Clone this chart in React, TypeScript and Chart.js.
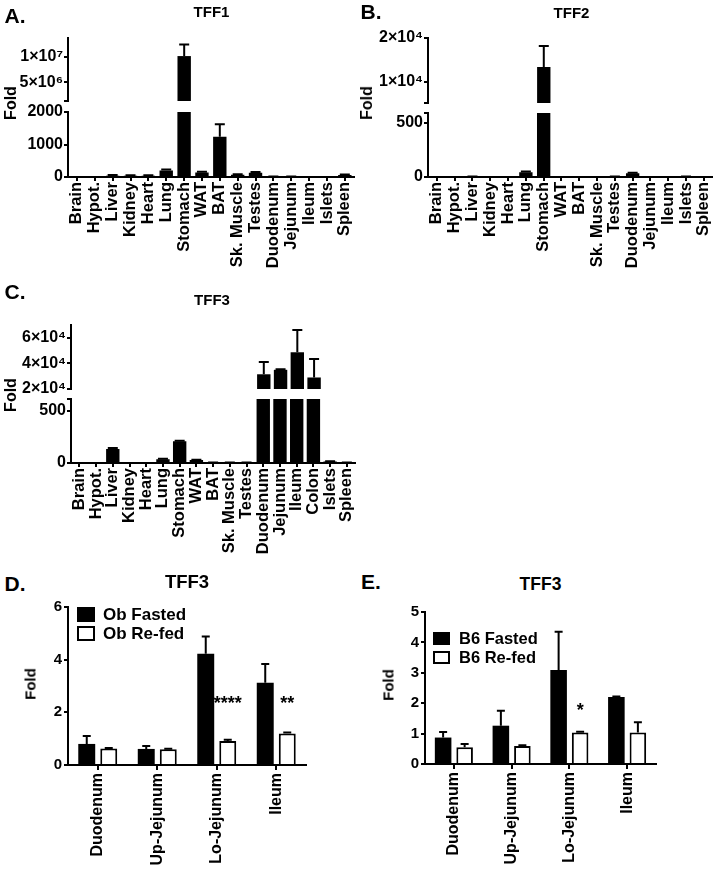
import React, { useEffect, useRef } from 'react';
import { Chart, registerables } from 'chart.js';

Chart.register(...registerables);

const FONT = '"Liberation Sans", Arial, Helvetica, sans-serif';

// ---------------- DATA ----------------
const tissues16 = ['Brain', 'Hypot.', 'Liver', 'Kidney', 'Heart', 'Lung', 'Stomach', 'WAT', 'BAT', 'Sk. Muscle', 'Testes', 'Duodenum', 'Jejunum', 'Ileum', 'Islets', 'Spleen'];
const tissues17 = ['Brain', 'Hypot.', 'Liver', 'Kidney', 'Heart', 'Lung', 'Stomach', 'WAT', 'BAT', 'Sk. Muscle', 'Testes', 'Duodenum', 'Jejunum', 'Ileum', 'Colon', 'Islets', 'Spleen'];

const tff1Mean = [2, 2, 40, 40, 40, 200, 10200000, 140, 1235, 70, 130, 10, 10, 2, 2, 60];
const tff1Err = [1, 1, 20, 15, 15, 30, 2300000, 20, 385, 15, 25, 5, 5, 1, 1, 15];
const tff2Mean = [0, 0, 3, 0, 0, 45, 13400, 0, 0, 0, 3, 35, 0, 0, 3, 0];
const tff2Err = [0, 0, 1, 0, 0, 5, 4800, 0, 0, 0, 1, 5, 0, 0, 1, 0];
const tff3Mean = [0, 0, 135, 0, 0, 36, 209, 29, 5, 5, 5, 31500, 35000, 48700, 29000, 15, 5];
const tff3Err = [0, 0, 8, 0, 0, 4, 6, 3, 1, 1, 1, 9500, 500, 17300, 14500, 3, 1];

// broken-axis ranges and ticks
const tff1TopRange = [1250000, 13800000];
const tff1TopTicks = [1250000, 5000000, 10000000];
const tff1TopTickLabels = ['', '5×10⁶', '1×10⁷'];
const tff1BottomRange = [0, 2000];
const tff1BottomTicks = [0, 1000, 2000];
const tff1BottomTickLabels = ['0', '1000', '2000'];

const tff2TopRange = [5200, 20000];
const tff2TopTicks = [5200, 10000, 20000];
const tff2TopTickLabels = ['', '1×10⁴', '2×10⁴'];
const tff2BottomRange = [0, 592];
const tff2BottomTicks = [0, 500, 592];
const tff2BottomTickLabels = ['0', '500', ''];

const tff3TopRange = [20000, 70000];
const tff3TopTicks = [20000, 40000, 60000];
const tff3TopTickLabels = ['2×10⁴', '4×10⁴', '6×10⁴'];
const tff3BottomRange = [0, 615];
const tff3BottomTicks = [0, 500, 615];
const tff3BottomTickLabels = ['0', '500', ''];

const segments = ['Duodenum', 'Up-Jejunum', 'Lo-Jejunum', 'Ileum'];
const obFastedMean = [0.8, 0.61, 4.22, 3.12];
const obFastedErr = [0.3, 0.11, 0.66, 0.72];
const obRefedMean = [0.63, 0.6, 0.91, 1.2];
const obRefedErr = [0.02, 0.02, 0.05, 0.03];
const obSig = ['', '', '****', '**'];
const obSigY = [0, 0, 2.46, 2.46];
const obTicks = [0, 2, 4, 6];

const b6FastedMean = [0.87, 1.26, 3.09, 2.2];
const b6FastedErr = [0.18, 0.49, 1.26, 0.02];
const b6RefedMean = [0.55, 0.59, 1.04, 1.04];
const b6RefedErr = [0.11, 0.03, 0.02, 0.33];
const b6Sig = ['', '', '*', ''];
const b6SigY = [0, 0, 1.87, 0];
const b6Ticks = [0, 1, 2, 3, 4, 5];

// ---------------- PLUGINS ----------------
const errorBarPlugin = {
  id: 'errorBars',
  afterDatasetsDraw(chart: any, _args: any, opts: any) {
    const { ctx, chartArea } = chart;
    ctx.save();
    ctx.beginPath();
    ctx.rect(chartArea.left, chartArea.top, chartArea.right - chartArea.left, chartArea.bottom - chartArea.top);
    ctx.clip();
    chart.data.datasets.forEach((ds: any, di: number) => {
      const errs = ds.errors;
      if (!errs) return;
      const meta = chart.getDatasetMeta(di);
      const yScale = chart.scales[meta.yAxisID];
      meta.data.forEach((el: any, i: number) => {
        const v = ds.data[i];
        const e = errs[i];
        if (!e) return;
        const yBar = yScale.getPixelForValue(v);
        const yTop = yScale.getPixelForValue(v + e);
        ctx.strokeStyle = '#000';
        ctx.lineWidth = opts.lineWidth || 2;
        ctx.beginPath();
        ctx.moveTo(el.x, yBar);
        ctx.lineTo(el.x, yTop);
        ctx.moveTo(el.x - opts.capWidth / 2, yTop);
        ctx.lineTo(el.x + opts.capWidth / 2, yTop);
        ctx.stroke();
      });
    });
    ctx.restore();
  },
};

const sigPlugin = {
  id: 'sigMarks',
  afterDatasetsDraw(chart: any, _args: any, opts: any) {
    if (!opts || !opts.labels) return;
    const { ctx } = chart;
    const meta = chart.getDatasetMeta(opts.datasetIndex);
    const yScale = chart.scales[meta.yAxisID];
    ctx.save();
    ctx.fillStyle = '#000';
    ctx.font = `bold ${opts.fontSize}px ${FONT}`;
    ctx.textAlign = 'center';
    ctx.textBaseline = 'middle';
    opts.labels.forEach((t: string, i: number) => {
      if (!t) return;
      const el = meta.data[i];
      const y = yScale.getPixelForValue(opts.ys[i]) + opts.fontSize * 0.22;
      ctx.fillText(t, el.x, y);
    });
    ctx.restore();
  },
};

const boxLegendPlugin = {
  id: 'boxLegend',
  afterDraw(chart: any, _args: any, opts: any) {
    if (!opts || !opts.show) return;
    const { ctx, chartArea } = chart;
    ctx.save();
    chart.data.datasets.forEach((ds: any, i: number) => {
      const x = chartArea.left + opts.dx;
      const y = chartArea.top + opts.dy + i * opts.rowH;
      ctx.fillStyle = ds.backgroundColor;
      ctx.fillRect(x, y, opts.boxW, opts.boxH);
      if (ds.borderWidth) {
        ctx.strokeStyle = '#000';
        ctx.lineWidth = 2;
        ctx.strokeRect(x + 1, y + 1, opts.boxW - 2, opts.boxH - 2);
      }
      ctx.fillStyle = '#000';
      ctx.font = `bold ${opts.fontSize}px ${FONT}`;
      ctx.textAlign = 'left';
      ctx.textBaseline = 'middle';
      ctx.fillText(ds.label, x + opts.boxW + opts.gap, y + opts.boxH / 2 + 1);
    });
    ctx.restore();
  },
};

// ---------------- CONFIG BUILDERS ----------------
function labeler(vals: number[], labs: string[]) {
  return (v: any) => {
    const n = Number(v);
    const i = vals.findIndex((t) => Math.abs(t - n) <= Math.abs(t) * 1e-9 + 1e-9);
    return i >= 0 ? labs[i] : '';
  };
}

type Box = { l: number; t: number; w: number; h: number };

function tissueConfig(p: {
  labels: string[];
  data: number[];
  errs: number[];
  range: number[];
  ticks: number[];
  tickLabels: string[];
  showX: boolean;
  yw: number;
  xh: number;
  barPct: number;
}): any {
  const tickFont = { family: FONT, size: 16, weight: 'bold' as const };
  return {
    type: 'bar',
    data: {
      labels: p.labels,
      datasets: [
        {
          data: p.data,
          errors: p.errs,
          backgroundColor: '#000',
          borderWidth: 0,
          barPercentage: p.barPct,
          categoryPercentage: 1,
          clip: 0,
        },
      ],
    },
    plugins: [errorBarPlugin],
    options: {
      animation: false,
      responsive: false,
      devicePixelRatio: 1,
      layout: { padding: { top: 14, right: 12, bottom: p.showX ? 0 : 14, left: 0 } },
      plugins: {
        legend: { display: false },
        tooltip: { enabled: false },
        errorBars: { lineWidth: 2, capWidth: 10 },
      },
      scales: {
        x: {
          type: 'category',
          display: p.showX,
          offset: true,
          grid: { display: true, offset: false, drawOnChartArea: false, drawTicks: true, tickLength: 4, color: '#000', lineWidth: 2 },
          border: { display: true, color: '#000', width: 2 },
          ticks: { autoSkip: false, maxRotation: 90, minRotation: 90, padding: 1, color: '#000', font: { family: FONT, size: 16.5, weight: 'bold' } },
          afterFit: (s: any) => {
            s.height = p.xh;
          },
        },
        y: {
          type: 'linear',
          min: p.range[0],
          max: p.range[1],
          beginAtZero: false,
          afterBuildTicks: (s: any) => {
            s.ticks = p.ticks.map((v) => ({ value: v }));
          },
          afterFit: (s: any) => {
            s.width = p.yw;
          },
          grid: { display: true, drawOnChartArea: false, drawTicks: true, tickLength: 4, color: '#000', lineWidth: 2 },
          border: { display: true, color: '#000', width: 2 },
          ticks: { callback: labeler(p.ticks, p.tickLabels), padding: 1, color: '#000', font: tickFont },
        },
      },
    },
  };
}

function groupConfig(p: {
  labelA: string;
  labelB: string;
  meanA: number[];
  errA: number[];
  meanB: number[];
  errB: number[];
  sig: string[];
  sigY: number[];
  ticks: number[];
  yw: number;
  xh: number;
  catPct: number;
  legend: any;
}): any {
  return {
    type: 'bar',
    data: {
      labels: segments,
      datasets: [
        {
          label: p.labelA,
          data: p.meanA,
          errors: p.errA,
          backgroundColor: '#000',
          borderColor: '#000',
          borderWidth: 0,
          barPercentage: 0.77,
          categoryPercentage: p.catPct,
          clip: 0,
        },
        {
          label: p.labelB,
          data: p.meanB,
          errors: p.errB,
          backgroundColor: '#fff',
          borderColor: '#000',
          borderWidth: 2,
          barPercentage: 0.77,
          categoryPercentage: p.catPct,
          clip: 0,
        },
      ],
    },
    plugins: [errorBarPlugin, sigPlugin, boxLegendPlugin],
    options: {
      animation: false,
      responsive: false,
      devicePixelRatio: 1,
      layout: { padding: { top: 14, right: 12, bottom: 0, left: 0 } },
      plugins: {
        legend: { display: false },
        tooltip: { enabled: false },
        errorBars: { lineWidth: 2, capWidth: 8 },
        sigMarks: { datasetIndex: 1, labels: p.sig, ys: p.sigY, fontSize: 18 },
        boxLegend: p.legend,
      },
      scales: {
        x: {
          type: 'category',
          offset: true,
          grid: { display: true, offset: false, drawOnChartArea: false, drawTicks: true, tickLength: 5, color: '#000', lineWidth: 2 },
          border: { display: true, color: '#000', width: 2 },
          ticks: { autoSkip: false, maxRotation: 90, minRotation: 90, padding: 3, color: '#000', font: { family: FONT, size: 16, weight: 'bold' } },
          afterFit: (s: any) => {
            s.height = p.xh;
          },
        },
        y: {
          type: 'linear',
          min: p.ticks[0],
          max: p.ticks[p.ticks.length - 1],
          afterBuildTicks: (s: any) => {
            s.ticks = p.ticks.map((v) => ({ value: v }));
          },
          afterFit: (s: any) => {
            s.width = p.yw;
          },
          grid: { display: true, drawOnChartArea: false, drawTicks: true, tickLength: 4, color: '#000', lineWidth: 2 },
          border: { display: true, color: '#000', width: 2 },
          ticks: { padding: 2, color: '#000', font: { family: FONT, size: 15, weight: 'bold' } },
        },
      },
    },
  };
}

// ---------------- COMPONENTS ----------------
function ChartCanvas({ box, make }: { box: Box; make: () => any }) {
  const ref = useRef<HTMLCanvasElement>(null);
  useEffect(() => {
    const chart = new Chart(ref.current as HTMLCanvasElement, make());
    return () => chart.destroy();
  }, []);
  return (
    <canvas
      ref={ref}
      width={box.w}
      height={box.h}
      style={{ position: 'absolute', left: box.l, top: box.t, width: box.w, height: box.h }}
    />
  );
}

function Txt({ x, y, size, text, rotate }: { x: number; y: number; size: number; text: string; rotate?: boolean }) {
  return (
    <div
      style={{
        position: 'absolute',
        left: x,
        top: y,
        transform: `translate(-50%, -50%)${rotate ? ' rotate(-90deg)' : ''}`,
        font: `bold ${size}px ${FONT}`,
        lineHeight: 1,
        whiteSpace: 'nowrap',
        color: '#000',
      }}
    >
      {text}
    </div>
  );
}

export default function App() {
  return (
    <div style={{ position: 'absolute', left: 0, top: 0, width: 713, height: 872, overflow: 'hidden', background: '#fff' }}>
      {/* Panel A */}
      <ChartCanvas
        box={{ l: 0, t: 24, w: 366, h: 91 }}
        make={() => tissueConfig({ labels: tissues16, data: tff1Mean, errs: tff1Err, range: tff1TopRange, ticks: tff1TopTicks, tickLabels: tff1TopTickLabels, showX: false, yw: 68, xh: 0, barPct: 0.75 })}
      />
      <ChartCanvas
        box={{ l: 0, t: 98, w: 366, h: 179 }}
        make={() => tissueConfig({ labels: tissues16, data: tff1Mean, errs: tff1Err, range: tff1BottomRange, ticks: tff1BottomTicks, tickLabels: tff1BottomTickLabels, showX: true, yw: 68, xh: 100, barPct: 0.75 })}
      />
      {/* Panel B */}
      <ChartCanvas
        box={{ l: 368, t: 24, w: 357, h: 93 }}
        make={() => tissueConfig({ labels: tissues16, data: tff2Mean, errs: tff2Err, range: tff2TopRange, ticks: tff2TopTicks, tickLabels: tff2TopTickLabels, showX: false, yw: 60, xh: 0, barPct: 0.75 })}
      />
      <ChartCanvas
        box={{ l: 368, t: 99, w: 357, h: 178 }}
        make={() => tissueConfig({ labels: tissues16, data: tff2Mean, errs: tff2Err, range: tff2BottomRange, ticks: tff2BottomTicks, tickLabels: tff2BottomTickLabels, showX: true, yw: 60, xh: 100, barPct: 0.75 })}
      />
      {/* Panel C */}
      <ChartCanvas
        box={{ l: 0, t: 311, w: 368, h: 92 }}
        make={() => tissueConfig({ labels: tissues17, data: tff3Mean, errs: tff3Err, range: tff3TopRange, ticks: tff3TopTicks, tickLabels: tff3TopTickLabels, showX: false, yw: 71, xh: 0, barPct: 0.8 })}
      />
      <ChartCanvas
        box={{ l: 0, t: 385, w: 368, h: 178 }}
        make={() => tissueConfig({ labels: tissues17, data: tff3Mean, errs: tff3Err, range: tff3BottomRange, ticks: tff3BottomTicks, tickLabels: tff3BottomTickLabels, showX: true, yw: 71, xh: 100, barPct: 0.8 })}
      />
      {/* Panel D */}
      <ChartCanvas
        box={{ l: 28, t: 593, w: 290, h: 282 }}
        make={() =>
          groupConfig({
            labelA: 'Ob Fasted',
            labelB: 'Ob Re-fed',
            meanA: obFastedMean,
            errA: obFastedErr,
            meanB: obRefedMean,
            errB: obRefedErr,
            sig: obSig,
            sigY: obSigY,
            ticks: obTicks,
            yw: 40,
            xh: 110,
            catPct: 0.74,
            legend: { show: true, dx: 9, dy: 0, boxW: 18, boxH: 15, rowH: 19, gap: 8, fontSize: 17 },
          })
        }
      />
      {/* Panel E */}
      <ChartCanvas
        box={{ l: 385, t: 598, w: 283, h: 276 }}
        make={() =>
          groupConfig({
            labelA: 'B6 Fasted',
            labelB: 'B6 Re-fed',
            meanA: b6FastedMean,
            errA: b6FastedErr,
            meanB: b6RefedMean,
            errB: b6RefedErr,
            sig: b6Sig,
            sigY: b6SigY,
            ticks: b6Ticks,
            yw: 40,
            xh: 110,
            catPct: 0.745,
            legend: { show: true, dx: 8, dy: 20, boxW: 17, boxH: 13, rowH: 19, gap: 9, fontSize: 16.5 },
          })
        }
      />

      {/* Panel letters */}
      <Txt x={15} y={15} size={21} text="A." />
      <Txt x={371} y={11} size={21} text="B." />
      <Txt x={15} y={290.5} size={21} text="C." />
      <Txt x={15} y={582.5} size={21} text="D." />
      <Txt x={371} y={580.5} size={21} text="E." />

      {/* Titles */}
      <Txt x={211.5} y={10.5} size={15} text="TFF1" />
      <Txt x={571.5} y={11.5} size={15} text="TFF2" />
      <Txt x={212} y={299} size={15} text="TFF3" />
      <Txt x={187} y={582} size={18.5} text="TFF3" />
      <Txt x={540.5} y={585} size={17.5} text="TFF3" />

      {/* Axis titles */}
      <Txt x={11} y={103} size={16} text="Fold" rotate />
      <Txt x={367} y={103} size={16} text="Fold" rotate />
      <Txt x={11} y={395} size={16} text="Fold" rotate />
      <Txt x={30} y={684} size={15} text="Fold" rotate />
      <Txt x={387.5} y={685} size={15} text="Fold" rotate />
    </div>
  );
}
